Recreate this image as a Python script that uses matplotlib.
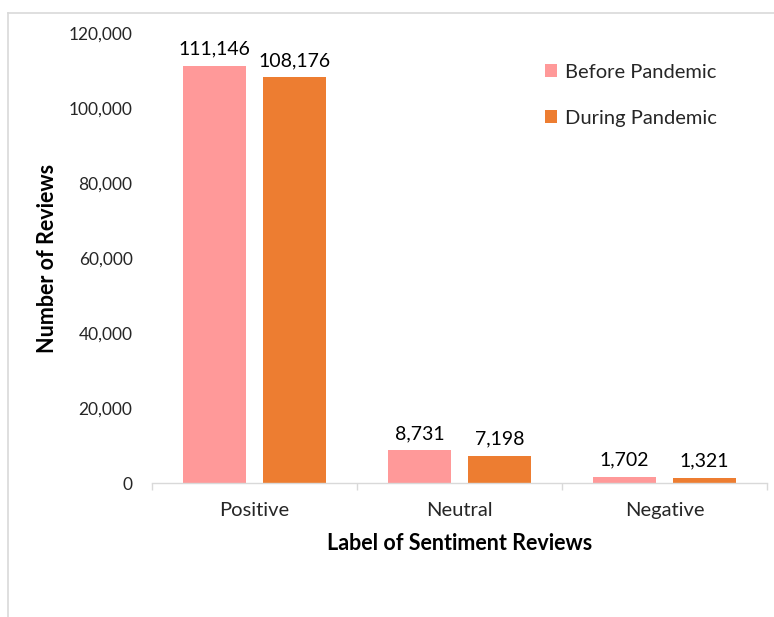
import matplotlib
matplotlib.use("Agg")
import matplotlib.pyplot as plt
from matplotlib.lines import Line2D
import numpy as np

categories = ["Positive", "Neutral", "Negative"]
before = [111146, 8731, 1702]
during = [108176, 7198, 1321]
series_names = ["Before Pandemic", "During Pandemic"]
yticks = [0, 20000, 40000, 60000, 80000, 100000, 120000]

plt.rcParams['font.family'] = ['Lato', 'DejaVu Sans']

fig = plt.figure(figsize=(7.74, 6.17), dpi=100)
ax = fig.add_axes([152/774, 1-483/617, 615/774, 450/617])

x = np.arange(len(categories))
w = 0.307
off = 0.195
c1, c2 = "#FF9999", "#ED7D31"
b1 = ax.bar(x - off, before, w, color=c1, label=series_names[0])
b2 = ax.bar(x + off, during, w, color=c2, label=series_names[1])

for bars, vals in ((b1, before), (b2, during)):
    for r, v in zip(bars, vals):
        ax.annotate(f"{v:,}", (r.get_x() + r.get_width()/2, v), xytext=(0, 6),
                    textcoords="offset points", ha="center", va="bottom",
                    fontsize=14, color="#000000")

ax.set_xlim(-0.5, 2.5)
ax.set_ylim(0, 120000)
ax.set_yticks(yticks)
ax.set_yticklabels([f"{t:,}" for t in yticks], fontsize=12.5, color="#262626")
ax.tick_params(axis='y', length=0, pad=14)

ax.set_xticks([-0.5, 0.5, 1.5, 2.5])
ax.set_xticklabels([])
ax.set_xticks(x, minor=True)
ax.set_xticklabels(categories, minor=True, fontsize=14.5, color="#262626")
ax.tick_params(axis='x', which='major', length=5, color="#D9D9D9", width=1)
ax.tick_params(axis='x', which='minor', length=0, pad=14)

for s in ["top", "right", "left"]:
    ax.spines[s].set_visible(False)
ax.spines["bottom"].set_color("#D9D9D9")
ax.spines["bottom"].set_linewidth(1)

ax.set_ylabel("Number of Reviews", fontsize=15.5, fontweight="bold", labelpad=8)
ax.set_xlabel("Label of Sentiment Reviews", fontsize=15.5, fontweight="bold", labelpad=10)

leg = ax.legend(loc="upper left", bbox_to_anchor=(0.61, 0.972), frameon=False,
                fontsize=14.5, handlelength=0.6, handleheight=0.6, labelspacing=1.45,
                handletextpad=0.4, labelcolor="#262626")

fig.add_artist(Line2D([8/774, 8/774], [0, 1-13/617], color="#D9D9D9", lw=1.2, transform=fig.transFigure))
fig.add_artist(Line2D([8/774, 1], [1-13/617, 1-13/617], color="#D9D9D9", lw=1.2, transform=fig.transFigure))

fig.savefig("out.png", dpi=100, facecolor="white")
